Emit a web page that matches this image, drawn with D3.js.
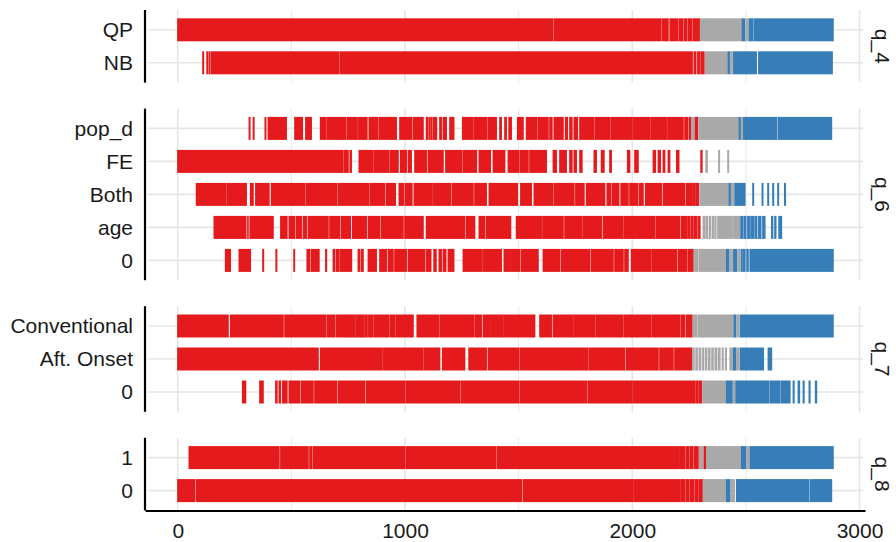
<!DOCTYPE html>
<html>
<head>
<meta charset="utf-8">
<script src="https://cdn.jsdelivr.net/npm/d3@7"></script>
<style>
  body { margin: 0; background: #fff; }
  text { font-family: "Liberation Sans", Arial, sans-serif; fill: #1a1a1a; }
</style>
</head>
<body>
<svg id="chart" width="896" height="542"></svg>
<script>
// spec index ticks, one row per choice, grouped in facets
const xTicks = [0, 1000, 2000, 3000];
const xMinor = [500, 1500, 2500];

const facetNames = ["q_4", "q_6", "q_7", "q_8"];
const rowsQ4 = ["QP", "NB"];
const rowsQ6 = ["pop_d", "FE", "Both", "age", "0"];
const rowsQ7 = ["Conventional", "Aft. Onset", "0"];
const rowsQ8 = ["1", "0"];

// runs of specifications [from, to, result]; r = neg. significant, g = n.s., b = pos. significant
const segQP = [[0,1650],[1656,2125],[2131,2158],[2166,2200],[2206,2222],[2228,2240],[2246,2262],[2268,2296],
  [2300,2480,"g"],[2484,2494,"b"],[2500,2508,"g"],[2514,2530,"b"],[2536,2884,"b"]];
const segNB = [[112,112],[130,130],[140,140],[148,708],[714,2264],[2272,2280],[2288,2296],[2302,2316],
  [2322,2418,"g"],[2422,2428,"b"],[2432,2440,"g"],[2446,2546,"b"],[2556,2880,"b"]];

const segPopD = [[316,316],[334,334],[386,386],[398,478],[515,549],[563,588],[628,650],[656,716],[720,740],
  [746,790],[796,833],[842,880],[886,962],[977,1029],[1036,1080],[1094,1100],[1106,1109],[1114,1118],
  [1124,1139],[1153,1160],[1168,1182],[1197,1215],[1253,1300],[1306,1360],[1366,1402],[1417,1424],
  [1439,1446],[1457,1468],[1495,1520],[1534,1580],[1586,1630],[1637,1647],[1656,1696],[1706,1715],
  [1725,1735],[1744,1759],[1769,1830],[1836,1900],[1906,2000],[2006,2077],[2082,2150],[2156,2224],
  [2231,2243],[2250,2258],[2262,2274,"g"],[2278,2288],[2294,2466,"g"],[2470,2476,"b"],[2480,2486,"g"],
  [2490,2635,"b"],[2642,2877,"b"]];
const segFE = [[0,725],[731,738],[742,750],[758,764],[798,860],[866,930],[936,970],[980,1006],[1014,1028],
  [1043,1094],[1102,1168],[1179,1250],[1256,1315],[1326,1376],[1388,1439],[1454,1500],[1506,1542],
  [1549,1622],[1652,1666],[1681,1710],[1725,1735],[1744,1754],[1769,1779],[1832,1842],[1864,1876],
  [1901,1908],[1979,1989],[2011,2026],[2092,2102],[2114,2124],[2136,2143],[2158,2165],[2195,2205],
  [2302,2307],[2324,2330,"g"],[2382,2382,"g"],[2422,2422,"g"]];
const segBoth = [[82,210],[216,302],[320,332],[343,402],[412,560],[566,700],[706,840],[846,911],[918,958],
  [974,995],[1002,1031],[1040,1120],[1126,1200],[1207,1300],[1307,1358],[1370,1495],[1509,1556],
  [1568,1650],[1656,1744],[1751,1788],[1798,1879],[1889,1904],[1911,1941],[1950,1982],[1989,2023],
  [2030,2048],[2058,2128],[2136,2231],[2238,2262],[2266,2276],[2280,2292],[2298,2422,"g"],[2426,2432,"b"],
  [2436,2448,"g"],[2452,2496,"b"],[2532,2532,"b"],[2573,2573,"b"],[2598,2598,"b"],[2620,2620,"b"],
  [2642,2642,"b"],[2672,2672,"b"]];
const segAge = [[160,300],[308,310],[318,420],[453,481],[490,515],[522,544],[552,566],[574,662],[669,713],
  [720,760],[769,830],[838,889],[896,992],[999,1080],[1094,1263],[1270,1307],[1326,1351],[1358,1465],
  [1490,1600],[1606,1696],[1703,1779],[1784,1864],[1872,1960],[1966,2100],[2106,2209],[2216,2238],
  [2244,2252],[2258,2268],[2274,2284],[2290,2298],[2312,2320,"g"],[2326,2332,"g"],[2340,2344,"g"],
  [2352,2358,"g"],[2364,2368,"g"],[2376,2440,"g"],[2446,2474,"g"],[2478,2486,"b"],[2492,2500,"b"],
  [2508,2516,"b"],[2522,2534,"b"],[2540,2548,"b"],[2556,2566,"b"],[2574,2584,"b"],[2613,2618,"b"],
  [2627,2632,"b"],[2645,2657,"b"]];
const segQ6Zero = [[210,232],[270,320],[376,376],[434,434],[511,514],[569,581],[588,622],[651,655],[684,691],
  [698,710],[716,765],[794,801],[808,816],[838,874],[889,918],[926,948],[955,1006],[1014,1087],[1094,1114],
  [1127,1137],[1150,1160],[1168,1180],[1190,1215],[1256,1340],[1346,1424],[1436,1461],[1465,1505],
  [1512,1586],[1608,1681],[1688,1813],[1820,1916],[1923,1960],[1967,1982],[1996,2080],[2086,2195],
  [2202,2240],[2246,2268],[2272,2288,"g"],[2294,2415,"g"],[2415,2425,"b"],[2430,2440,"g"],[2446,2460,"b"],
  [2466,2474,"g"],[2480,2484,"b"],[2490,2496,"b"],[2504,2510,"b"],[2518,2884,"b"]];

const segConv = [[0,222],[232,464],[471,651],[657,691],[697,738],[742,760],[764,780],[784,800],[804,820],
  [824,834],[840,860],[866,880],[884,930],[936,955],[960,1036],[1053,1150],[1156,1304],[1310,1336],
  [1344,1373],[1377,1432],[1436,1571],[1593,1644],[1652,1740],[1744,1835],[1840,1960],[1966,2080],
  [2086,2195],[2199,2210],[2216,2231],[2238,2263],[2268,2284,"g"],[2290,2444,"g"],[2448,2456,"b"],
  [2462,2470,"g"],[2476,2884,"b"]];
const segAftOnset = [[0,618],[628,900],[906,1080],[1086,1153],[1165,1263],[1281,1358],[1366,1500],
  [1506,1750],[1754,1803],[1809,1967],[1974,2114],[2121,2180],[2187,2261],[2266,2272,"g"],[2280,2286,"g"],
  [2294,2300,"g"],[2308,2314,"g"],[2322,2328,"g"],[2336,2342,"g"],[2350,2356,"g"],[2364,2372,"g"],
  [2380,2386,"g"],[2396,2400,"g"],[2410,2414,"g"],[2430,2444,"g"],[2446,2456,"b"],[2460,2470,"g"],
  [2476,2577,"b"],[2598,2613,"b"]];
const segQ7Zero = [[285,299],[361,376],[431,437],[446,452],[461,481],[490,537],[544,596],[603,699],
  [706,823],[830,1000],[1006,1241],[1247,1500],[1506,1800],[1806,2000],[2006,2275],[2280,2290],[2296,2304],
  [2310,2415,"g"],[2415,2440,"b"],[2444,2452,"g"],[2456,2600,"b"],[2606,2650,"b"],[2656,2694,"b"],
  [2708,2712,"b"],[2730,2736,"b"],[2752,2756,"b"],[2778,2782,"b"],[2806,2811,"b"]];

const segQ8One = [[50,446],[453,574],[581,590],[596,1000],[1006,1400],[1406,2207],[2212,2232],[2238,2250],
  [2256,2266],[2272,2290],[2296,2310,"g"],[2316,2324],[2327,2481,"g"],[2481,2500,"b"],[2506,2520,"g"],
  [2520,2884,"b"]];
const segQ8Zero = [[0,75],[82,1513],[1520,2004],[2008,2210],[2214,2230],[2236,2250],[2256,2270],[2276,2290],
  [2296,2312],[2312,2415,"g"],[2415,2430,"b"],[2436,2450,"g"],[2459,2775,"b"],[2782,2877,"b"]];

const colors = { r: "#e41a1c", g: "#a9a9a9", b: "#377eb8" };

const facets = [
  { name: facetNames[0], rows: rowsQ4, segs: [segQP, segNB] },
  { name: facetNames[1], rows: rowsQ6, segs: [segPopD, segFE, segBoth, segAge, segQ6Zero] },
  { name: facetNames[2], rows: rowsQ7, segs: [segConv, segAftOnset, segQ7Zero] },
  { name: facetNames[3], rows: rowsQ8, segs: [segQ8One, segQ8Zero] }
];

const svg = d3.select("#chart");
const unit = 33;       // px per row
const gap = 26;        // px between facets
const barH = 23;
const left = 145, right = 865;
const fontSize = "21px";

const x = d3.scaleLinear().domain([-144, 3024]).range([left, right]);

let yTop = 10;
facets.forEach(f => {
  const h = (f.rows.length + 0.2) * unit;
  const y = d3.scalePoint().domain(f.rows).range([yTop + 0.6 * unit, yTop + h - 0.6 * unit]);
  const g = svg.append("g");

  // grid
  g.selectAll(".vminor").data(xMinor).join("line")
    .attr("x1", d => x(d)).attr("x2", d => x(d))
    .attr("y1", yTop).attr("y2", yTop + h)
    .attr("stroke", "#ececec").attr("stroke-width", 1.2);
  g.selectAll(".vmajor").data(xTicks).join("line")
    .attr("x1", d => x(d)).attr("x2", d => x(d))
    .attr("y1", yTop).attr("y2", yTop + h)
    .attr("stroke", "#e6e6e6").attr("stroke-width", 1.6);
  g.selectAll(".hgrid").data(f.rows).join("line")
    .attr("x1", left + 3).attr("x2", right - 2)
    .attr("y1", d => y(d)).attr("y2", d => y(d))
    .attr("stroke", "#e6e6e6").attr("stroke-width", 1.6);

  // ticks: single specs get a 2px line, runs a slight overlap
  f.rows.forEach((r, i) => {
    g.append("g").selectAll("rect").data(f.segs[i]).join("rect")
      .attr("x", d => d[0] === d[1] ? x(d[0]) - 1 : x(d[0]) - 0.6)
      .attr("width", d => d[0] === d[1] ? 2 : x(d[1]) - x(d[0]) + 1.2)
      .attr("y", y(r) - barH / 2)
      .attr("height", barH)
      .attr("fill", d => colors[d[2] || "r"]);
  });

  // y axis
  const ya = g.append("g")
    .attr("transform", `translate(${left},0)`)
    .call(d3.axisLeft(y).tickSize(0).tickPadding(12));
  ya.select(".domain").remove();
  ya.selectAll("text").style("font-size", fontSize).attr("fill", "#1a1a1a");
  g.append("line")
    .attr("x1", left).attr("x2", left)
    .attr("y1", yTop).attr("y2", yTop + h)
    .attr("stroke", "#000").attr("stroke-width", 2.2);

  // strip label
  g.append("text")
    .attr("transform", `translate(882,${yTop + h / 2}) rotate(90)`)
    .attr("text-anchor", "middle")
    .attr("dy", "0.35em")
    .style("font-size", fontSize)
    .text(f.name);

  yTop += h + gap;
});

// x axis under the last facet
const xa = svg.append("g")
  .attr("transform", `translate(0,${yTop - gap})`)
  .call(d3.axisBottom(x).tickValues(xTicks).tickFormat(d3.format("d")).tickSize(0).tickSizeOuter(0).tickPadding(13));
xa.select(".domain").attr("stroke", "#000").attr("stroke-width", 2);
xa.selectAll("text").style("font-size", fontSize).attr("fill", "#1a1a1a");
</script>
</body>
</html>
